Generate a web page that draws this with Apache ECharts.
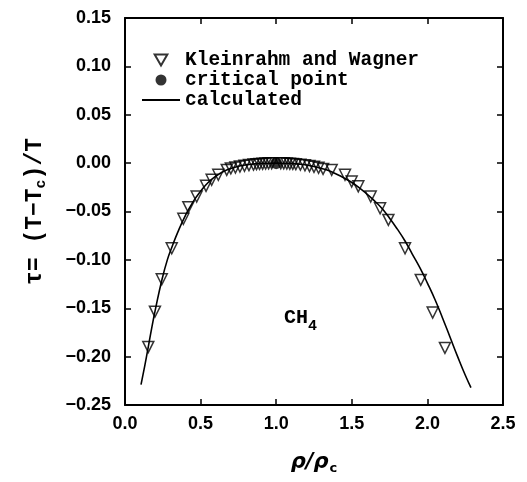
<!DOCTYPE html>
<html>
<head>
<meta charset="utf-8">
<script src="https://cdn.jsdelivr.net/npm/echarts@6/dist/echarts.min.js"></script>
<style>
html,body{margin:0;padding:0;background:#fff;}
#chart{width:527px;height:482px;}
</style>
</head>
<body>
<div id="chart"></div>
<script>
// Experimental data (Kleinrahm and Wagner): [rho/rho_c, tau]
var expX = [0.154,0.198,0.243,0.309,0.386,0.419,0.474,0.536,0.573,0.617,0.673,0.70,0.73,0.76,0.79,0.82,0.85,0.87,0.89,0.91,0.93,0.95,0.97,
            1.03,1.05,1.07,1.09,1.11,1.13,1.16,1.19,1.22,1.25,1.28,1.31,1.367,1.455,1.499,1.543,1.625,1.687,1.742,1.852,1.956,2.035,2.116];
var expY = [-0.190,-0.1535,-0.120,-0.088,-0.0576,-0.0455,-0.0345,-0.0235,-0.0172,-0.012,-0.007,-0.0055,-0.0045,-0.0035,-0.0027,-0.002,-0.0015,-0.0011,-0.0008,-0.0006,-0.0004,-0.0002,-0.0001,
            -0.0001,-0.0002,-0.0004,-0.0006,-0.0008,-0.0011,-0.0016,-0.0022,-0.003,-0.0038,-0.0048,-0.006,-0.007,-0.012,-0.019,-0.024,-0.0345,-0.0466,-0.0587,-0.088,-0.1207,-0.1545,-0.191];
// Critical point
var critX = [1.0];
var critY = [0.0];
// Calculated curve
var calcX = [0.106,0.13,0.154,0.176,0.2,0.245,0.28,0.31,0.35,0.40,0.45,0.50,0.55,0.60,0.65,0.70,0.75,0.80,0.85,0.90,0.95,1.00,
             1.05,1.10,1.15,1.20,1.25,1.30,1.35,1.40,1.45,1.50,1.55,1.60,1.65,1.70,1.75,1.80,1.85,1.90,1.95,2.00,2.05,2.10,2.15,2.20,2.25,2.288];
var calcY = [-0.229,-0.21,-0.19,-0.171,-0.152,-0.12,-0.100,-0.087,-0.071,-0.054,-0.040,-0.029,-0.020,-0.0135,-0.0088,-0.0055,-0.0033,-0.0018,-0.0009,-0.0003,-0.0001,0,
             -0.0001,-0.0003,-0.001,-0.002,-0.0035,-0.0055,-0.008,-0.0115,-0.0155,-0.020,-0.0255,-0.032,-0.039,-0.047,-0.057,-0.068,-0.080,-0.094,-0.108,-0.124,-0.141,-0.160,-0.180,-0.200,-0.219,-0.232];
// Tick labels
var xTickLabels = ['0.0','0.5','1.0','1.5','2.0','2.5'];
var yTickLabels = ['−0.25','−0.20','−0.15','−0.10','−0.05','0.00','0.05','0.10','0.15'];

function zip(a,b){ var r=[]; for(var i=0;i<a.length;i++) r.push([a[i],b[i]]); return r; }

var labelFont = {color:'#000', fontFamily:'Liberation Sans, Arial, sans-serif', fontWeight:'bold', fontSize:18};
var monoFont = 'Liberation Mono, Courier New, monospace';

var chart = echarts.init(document.getElementById('chart'), null, {renderer:'canvas'});
var axisCommon = {
  axisLine:{show:true, onZero:false, lineStyle:{color:'#000', width:2}},
  axisTick:{show:true, inside:true, length:6, lineStyle:{color:'#000', width:1.5}},
  splitLine:{show:false}
};
chart.setOption({
  animation:false,
  backgroundColor:'#fff',
  grid:{left:125, right:24, top:18, bottom:77, containLabel:false},
  xAxis:[
    Object.assign({type:'value', min:0, max:2.5, interval:0.5, position:'bottom',
      name:'ρ/ρ{s|c}', nameLocation:'middle', nameGap:45,
      nameTextStyle:{color:'#000', fontFamily:'DejaVu Sans, sans-serif', fontStyle:'italic', fontWeight:'bold', fontSize:21,
        rich:{s:{fontSize:13, fontStyle:'normal', fontWeight:'bold', fontFamily:'DejaVu Sans, sans-serif', padding:[12,0,0,1]}}},
      axisLabel:Object.assign({margin:10, formatter:function(v){ return xTickLabels[Math.round(v/0.5)]; }}, labelFont)
    }, axisCommon),
    Object.assign({type:'value', min:0, max:2.5, interval:0.5, position:'top', axisLabel:{show:false}}, axisCommon)
  ],
  yAxis:[
    Object.assign({type:'value', min:-0.25, max:0.15, interval:0.05, position:'left',
      name:'τ= (T−T{s|c})/T', nameLocation:'middle', nameGap:76, nameRotate:90,
      nameTextStyle:{color:'#000', fontFamily:monoFont, fontWeight:'bold', fontSize:23,
        rich:{s:{fontSize:15, fontWeight:'bold', fontFamily:monoFont, padding:[12,0,0,0]}}},
      axisLabel:Object.assign({margin:14, formatter:function(v){ return yTickLabels[Math.round((v+0.25)/0.05)]; }}, labelFont)
    }, axisCommon),
    Object.assign({type:'value', min:-0.25, max:0.15, interval:0.05, position:'right', axisLabel:{show:false}}, axisCommon)
  ],
  legend:{
    orient:'vertical', left:136, top:45, itemWidth:38, itemHeight:11, itemGap:0, padding:5,
    symbolRotate:0, symbolKeepAspect:true,
    textStyle:{color:'#000', fontFamily:monoFont, fontWeight:'bold', fontSize:19.5, lineHeight:18},
    data:[
      {name:'Kleinrahm and Wagner', icon:'path://M0,0L12,0L6,10.4Z'},
      {name:'critical point', icon:'circle'},
      {name:'calculated', itemStyle:{color:'rgba(0,0,0,0)', borderColor:'rgba(0,0,0,0)', borderWidth:0}}
    ]
  },
  graphic:[{
    type:'text', left:284, top:308, z:10,
    style:{text:'CH{s|4}', fill:'#000', font:'bold 20px ' + monoFont,
      rich:{s:{fontSize:15, fontWeight:'bold', fontFamily:monoFont, padding:[16,0,0,0]}}}
  }],
  series:[
    {name:'calculated', type:'line', data:zip(calcX,calcY), symbol:'none', smooth:true, z:2,
     lineStyle:{color:'#000', width:1.6}, itemStyle:{color:'#000'}},
    {name:'Kleinrahm and Wagner', type:'scatter', data:zip(expX,expY), symbol:'triangle', symbolRotate:180, symbolSize:11, z:3,
     itemStyle:{color:'rgba(255,255,255,0)', borderColor:'#000', borderWidth:1.5}},
    {name:'critical point', type:'scatter', data:zip(critX,critY), symbol:'circle', symbolSize:12, z:4,
     itemStyle:{color:'#000'}}
  ]
});
</script>
</body>
</html>
